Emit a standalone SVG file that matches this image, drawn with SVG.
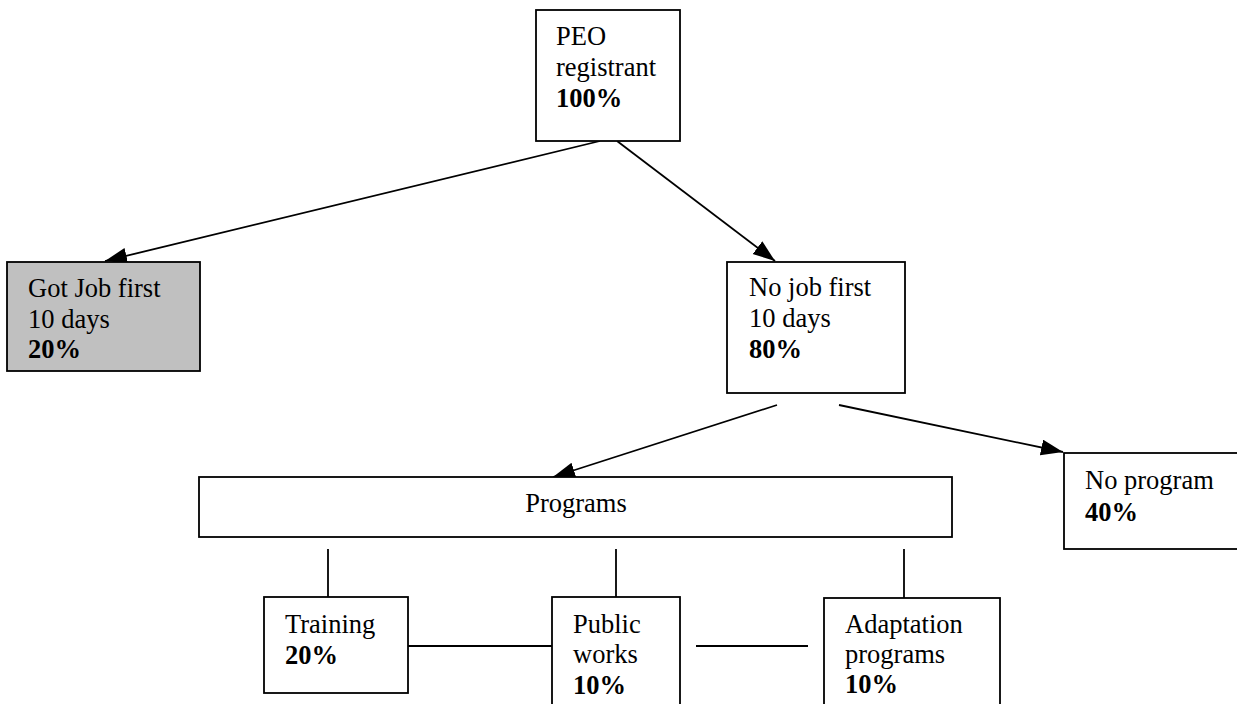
<svg xmlns="http://www.w3.org/2000/svg" width="1237" height="704" viewBox="0 0 1237 704">
<style>
.box{fill:#fff;stroke:#000;stroke-width:1.8}
.grey{fill:#c0c0c0}
.t{font-family:"Liberation Serif","Times New Roman",serif;font-size:26.5px;fill:#000}
.b{font-weight:bold}
.ln{stroke:#000;stroke-width:1.8;fill:none}
</style>
<defs>
<marker id="ah" markerUnits="userSpaceOnUse" markerWidth="24" markerHeight="18" refX="22" refY="8" orient="auto">
<path d="M0,0 L22,8 L0,16 Z" fill="#000"/>
</marker>
</defs>
<rect width="1237" height="704" fill="#fff"/>
<g id="connectors">
<line class="ln" x1="600" y1="141" x2="105" y2="261" marker-end="url(#ah)"/>
<line class="ln" x1="617" y1="141" x2="775" y2="261" marker-end="url(#ah)"/>
<line class="ln" x1="777" y1="405" x2="553" y2="477" marker-end="url(#ah)"/>
<line class="ln" x1="839" y1="405" x2="1063" y2="452" marker-end="url(#ah)"/>
<line class="ln" x1="328" y1="549" x2="328" y2="597"/>
<line class="ln" x1="616" y1="549" x2="616" y2="597"/>
<line class="ln" x1="904" y1="549" x2="904" y2="598"/>
<line class="ln" x1="408" y1="646" x2="552" y2="646"/>
<line class="ln" x1="696" y1="646" x2="808" y2="646"/>
</g>
<g id="peo">
<rect class="box" x="536" y="10" width="144" height="131"/>
<text class="t" x="556" y="45">PEO</text>
<text class="t" x="556" y="76">registrant</text>
<text class="t b" x="556" y="107">100%</text>
</g>
<g id="gotjob">
<rect class="box grey" x="7" y="262" width="193" height="109"/>
<text class="t" x="28" y="297">Got Job first</text>
<text class="t" x="28" y="328">10 days</text>
<text class="t b" x="28" y="358">20%</text>
</g>
<g id="nojob">
<rect class="box" x="727" y="262" width="178" height="131"/>
<text class="t" x="749" y="296">No job first</text>
<text class="t" x="749" y="327">10 days</text>
<text class="t b" x="749" y="358">80%</text>
</g>
<g id="programs">
<rect class="box" x="199" y="477" width="753" height="60"/>
<text class="t" x="576" y="512" text-anchor="middle">Programs</text>
</g>
<g id="noprogram">
<rect class="box" x="1064" y="453" width="190" height="96"/>
<text class="t" x="1085" y="489">No program</text>
<text class="t b" x="1085" y="521">40%</text>
</g>
<g id="training">
<rect class="box" x="264" y="597" width="144" height="96"/>
<text class="t" x="285" y="633">Training</text>
<text class="t b" x="285" y="664">20%</text>
</g>
<g id="publicworks">
<rect class="box" x="552" y="597" width="128" height="130"/>
<text class="t" x="573" y="633">Public</text>
<text class="t" x="573" y="663">works</text>
<text class="t b" x="573" y="694">10%</text>
</g>
<g id="adaptation">
<rect class="box" x="824" y="598" width="176" height="130"/>
<text class="t" x="845" y="633">Adaptation</text>
<text class="t" x="845" y="663">programs</text>
<text class="t b" x="845" y="693">10%</text>
</g>
</svg>
